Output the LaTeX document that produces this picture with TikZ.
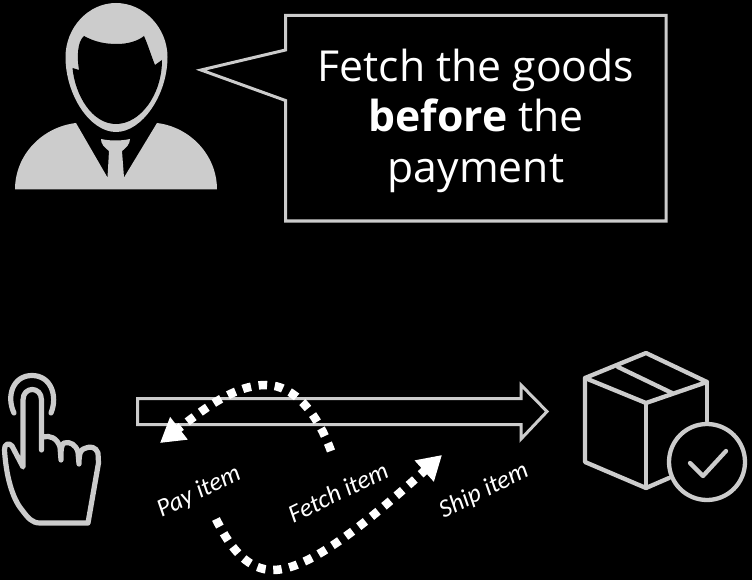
\documentclass[tikz,border=0pt]{standalone}
\usepackage{fontspec}
\setmainfont{Open Sans}
\newfontfamily\handfont{Carlito}
\usetikzlibrary{arrows.meta}
\definecolor{ink}{HTML}{CCCCCC}
\tikzset{
  iconline/.style={draw=ink,line width=5.2pt,line cap=round,line join=round},
  boxline/.style={draw=ink,line width=4.3pt,line cap=round,line join=round},
  thinline/.style={draw=ink,line width=3pt,line join=miter},
  dotflow/.style={draw=white,line width=8.5pt,dash pattern=on 8.5pt off 7.7pt,-{Triangle[length=24pt,width=27pt]}},
  handlabel/.style={text=white,rotate=26,font=\handfont\itshape\fontsize{25.5}{28}\selectfont,inner sep=0pt},
  saytext/.style={text=white,align=center,font=\fontsize{42.7}{50.5}\selectfont,inner sep=0pt}
}
\begin{document}
\begin{tikzpicture}[x=1pt,y=-1pt]
\fill[black] (0,0) rectangle (752,580);
\useasboundingbox (0,0) rectangle (752,580);
% person
\fill[ink] (15,189.5) .. controls (15,155) and (42,127) .. (76,123) -- (107.5,177.5) -- (109,151) .. controls (104,147) and (101,144) .. (101,139) .. controls (110,141) and (121,141) .. (130,139) .. controls (130,144) and (126,148) .. (122,151) -- (124,177.5) -- (157,123) .. controls (190,127) and (217,155) .. (217,189.5) -- cycle;
\fill[ink] (116,3) .. controls (88,3) and (65.5,28) .. (65.5,57) .. controls (65.5,95) and (90,132) .. (116,132) .. controls (142,132) and (167.5,95) .. (167.5,57) .. controls (167.5,28) and (144,3) .. (116,3) -- cycle;
\fill[black] (84,36) .. controls (95,42) and (105,44) .. (117,44) .. controls (128,44) and (138,41) .. (144,36) .. controls (148,45) and (152,58) .. (155,65) -- (162,60) .. controls (162,95) and (140,124) .. (116,124) .. controls (92,124) and (75,95) .. (72.5,68) -- (79,70) .. controls (77,58) and (77,42) .. (84,36) -- cycle;
% speech bubble
\path[thinline] (285.5,15.5) -- (666,15.5) -- (666,221) -- (285.5,221) -- (285.5,100.5) -- (201,70) -- (285.5,50) -- cycle;
\node[saytext] (say) at (476,120.5) {Fetch the goods\\\textbf{before} the\\payment};
% hand
\path[iconline] (14,413) .. controls (6,396) and (13,375.5) .. (32,375.5) .. controls (51,375.5) and (58,396) .. (51,413);
\path[iconline] (41.5,450) -- (41.5,400) .. controls (41.5,386) and (23,386) .. (23,400) -- (23,467) -- (12,446) .. controls (9,442) and (4,444) .. (4.5,450) .. controls (6,475) and (12,498) .. (22,510) .. controls (28,518) and (32,523) .. (40,523) -- (88,523) -- (98.5,463) -- (98,453) .. controls (96,447) and (90,446) .. (86,448) .. controls (81,449) and (79,452) .. (79,464) -- (78,452) .. controls (76,445) and (70,441) .. (64,443) .. controls (61,445) and (61,450) .. (61,460) -- (60,447) .. controls (57,438) and (50,435) .. (43,437);
% long arrow
\path[thinline] (137.5,398.5) -- (521,398.5) -- (521,385) -- (547,411.5) -- (521,439) -- (521,424.5) -- (137.5,424.5) -- cycle;
% box
\path[boxline] (646,353) -- (585,378) -- (646,403) -- (707,382) -- cycle;
\path[boxline] (585,378) -- (585,462) -- (646,488) -- (669,478);
\path[boxline] (646,403) -- (646,488);
\path[boxline] (707,382) -- (707,421);
\path[boxline] (618,367) -- (672,393);
\node[draw=ink,line width=4.3pt,circle,minimum size=76pt,inner sep=0pt] (okc) at (707,462) {};
\path[boxline] (690,463) -- (703,476) -- (726,451);
% flows
\coordinate (fetchstart) at (331,451);
\coordinate (fetchmid) at (266,385);
\coordinate (payend) at (160,443);
\coordinate (paystart) at (216,519);
\coordinate (paymid) at (273,570);
\coordinate (shipend) at (442,455);
\draw[dotflow] (fetchstart) .. controls (318,415) and (295,385) .. (fetchmid) .. controls (235,385) and (205,408) .. (payend);
\draw[dotflow] (paystart) .. controls (232,552) and (250,570) .. (paymid) .. controls (310,570) and (370,520) .. (shipend);
% labels
\node[handlabel] (pay) at (199,492) {Pay item};
\node[handlabel] (fetch) at (338,492) {Fetch item};
\node[handlabel] (ship) at (484,491) {Ship item};
\end{tikzpicture}
\end{document}
